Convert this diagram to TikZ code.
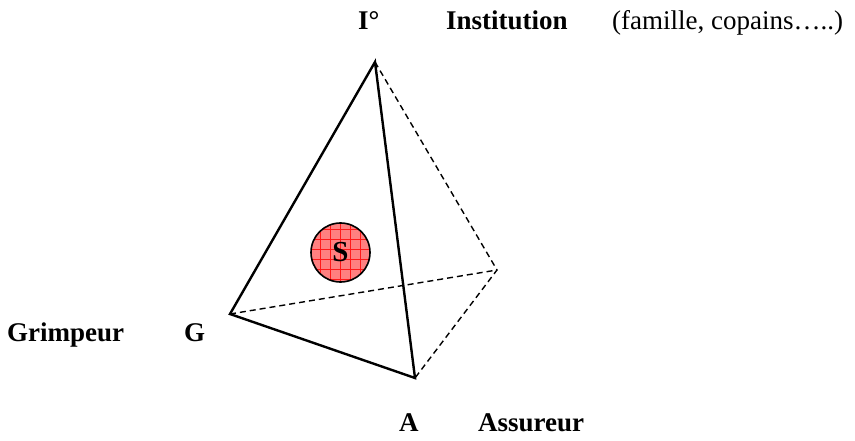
\documentclass[tikz,border=0pt]{standalone}
\usepackage{fontspec}
\setmainfont{Liberation Serif}
\begin{document}
\begin{tikzpicture}[x=1pt,y=-1pt,
  lbl/.style={anchor=base west,inner sep=0pt,font=\fontsize{27}{32}\selectfont},
  lblb/.style={lbl,font=\fontsize{27}{32}\selectfont\bfseries},
  edge/.style={line width=2.4pt,line join=miter},
  hidden/.style={line width=1.4pt,dash pattern=on 6pt off 4pt}]
\useasboundingbox (0,0) rectangle (855,441);
\coordinate (I) at (375,62);
\coordinate (G) at (230,314);
\coordinate (A) at (415,378);
\coordinate (D) at (497,270);
\draw[hidden] (I) -- (D) -- (A);
\draw[hidden] (G) -- (D);
\draw[edge] (I) -- (G) -- (A) -- cycle;
% circle S
\begin{scope}
\clip (340.5,252.5) circle (29.5);
\fill[red!50!white] (300,210) rectangle (380,290);
\foreach \k in {0,...,8} {
  \draw[red!90,line width=0.6pt] (310+10*\k,210) -- (310+10*\k,290);
  \draw[red!90,line width=0.6pt] (300,219+10*\k) -- (380,219+10*\k);
}
\end{scope}
\draw[line width=1.6pt] (340.5,252.5) circle (29.5);
\node[lblb,anchor=center,font=\fontsize{29}{32}\selectfont\bfseries] (S) at (340.5,252.5) {S};
% labels
\node[lblb] (Ilab) at (358,30) {I°};
\node[lblb] (Inst) at (446,30) {Institution};
\node[lbl] (fam) at (612,30) {(famille, copains…..)};
\node[lblb] (Grim) at (7,341) {Grimpeur};
\node[lblb] (Glab) at (184,341) {G};
\node[lblb] (Alab) at (399,431) {A};
\node[lblb] (Ass) at (478,431) {Assureur};
\end{tikzpicture}
\end{document}
